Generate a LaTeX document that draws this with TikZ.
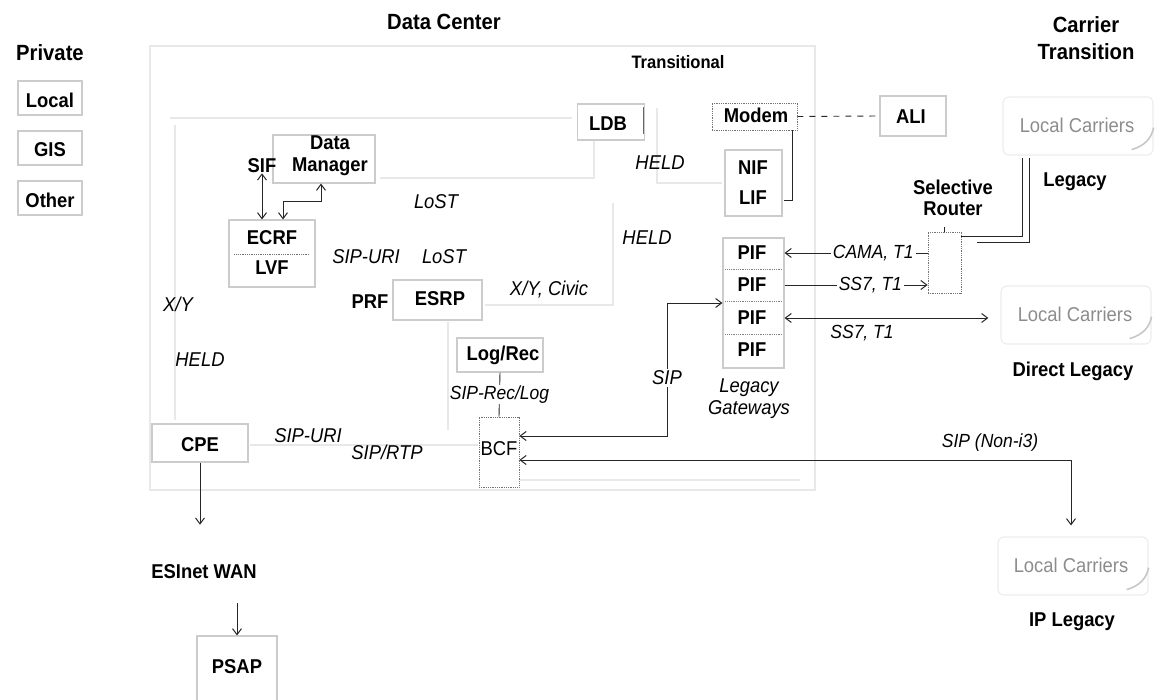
\documentclass[tikz,border=0pt]{standalone}
\usepackage{fontspec}
\setmainfont{Liberation Sans}[FakeStretch=0.92]
\usetikzlibrary{arrows.meta}
\begin{document}
\begin{tikzpicture}[x=1pt,y=-1pt,
  lbl/.style={font=\bfseries\fontsize{20}{22}\selectfont, inner sep=0pt, align=center},
  ttl/.style={font=\bfseries\fontsize{22}{27}\selectfont, inner sep=0pt, align=center},
  prot/.style={font=\itshape\fontsize{20}{22}\selectfont, inner sep=0pt, align=center},
  plab/.style={font=\itshape\fontsize{19}{21}\selectfont, inner sep=2pt, fill=white},
  carr/.style={font=\fontsize{20}{22}\selectfont, text=black!45, inner sep=0pt},
  fbox/.style={draw=black!20, line width=1.1pt, inner sep=0pt},
  dbox/.style={draw=black!55, densely dotted, line width=0.8pt, inner sep=0pt},
  faintline/.style={draw=black!9, line width=1.6pt},
  cloud/.style={draw=black!7, line width=1.2pt, rounded corners=6pt, inner sep=0pt},
  wire/.style={draw=black!85, line width=0.9pt},
  tip/.style={-{Straight Barb[length=6pt,width=9pt,line width=1pt]}},
  tips/.style={{Straight Barb[length=6pt,width=9pt,line width=1pt]}-{Straight Barb[length=6pt,width=9pt,line width=1pt]}}
]
\useasboundingbox (0,0) rectangle (1161,700);

% ---------- faint background structure (scanned connectors) ----------
\draw[faintline] (150,46) rectangle (815,490);
\draw[faintline] (170,118) -- (572,118);
\draw[faintline] (175,125) -- (175,420);
\draw[faintline] (594,140) -- (594,178) -- (380,178);
\draw[faintline] (657,108) -- (657,183) -- (722,183);
\draw[faintline] (613,203) -- (613,305) -- (485,305);
\draw[faintline] (250,445) -- (478,445);
\draw[faintline] (448,322) -- (448,430);
\draw[faintline] (520,480) -- (800,480);

% ---------- titles ----------
\node[ttl] (private) at (50,53) {Private};
\node[ttl] (dc) at (444,22) {Data Center};
\node[ttl] (ct) at (1086,38) {Carrier\\Transition};
\node[lbl, font=\bfseries\fontsize{18}{20}\selectfont] (trans) at (678,62) {Transitional};

% ---------- private ----------
\node[fbox, minimum width=64, minimum height=34] (localbox) at (50,98) {};
\node[lbl] (local) at (50,100) {Local};
\node[fbox, minimum width=64, minimum height=34] (gisbox) at (50,148) {};
\node[lbl] (gis) at (50,150) {GIS};
\node[fbox, minimum width=64, minimum height=34] (otherbox) at (50,198) {};
\node[lbl] (other) at (50,200) {Other};

% ---------- data center nodes ----------
\node[fbox, minimum width=102, minimum height=48] (dmbox) at (324,159) {};
\node[lbl] (dm) at (330,156) {Data\\Manager};
\node[lbl] (sif) at (262,166) {SIF};

\node[fbox, minimum width=86, minimum height=67] (ecrfbox) at (272,253.5) {};
\node[lbl] (ecrf) at (272,238) {ECRF};
\node[lbl] (lvf) at (272,268) {LVF};
\draw[black!55, densely dotted, line width=0.8pt] ([xshift=6pt,yshift=-0.5pt]ecrfbox.west) -- ([xshift=-6pt,yshift=-0.5pt]ecrfbox.east);

\node[fbox, minimum width=89, minimum height=40] (esrpbox) at (437.5,300) {};
\node[lbl] (esrp) at (440,299) {ESRP};
\node[lbl] (prf) at (370,302) {PRF};

\node[fbox, minimum width=86, minimum height=34] (logrecbox) at (500,355) {};
\node[lbl] (logrec) at (503,355) {Log/Rec};

\node[dbox, minimum width=40, minimum height=70] (bcfbox) at (499,452) {};
\node[font=\fontsize{20}{22}\selectfont, inner sep=0pt] (bcf) at (499,449) {BCF};

\node[fbox, minimum width=96, minimum height=38] (cpebox) at (200,443) {};
\node[lbl] (cpe) at (200,445) {CPE};

\node[lbl] (esinet) at (204,572) {ESInet WAN};

\node[fbox, minimum width=80, minimum height=72] (psapbox) at (237,672) {};
\node[lbl] (psap) at (237,667) {PSAP};

\node[fbox, minimum width=67, minimum height=36] (ldbbox) at (611,122) {};
\node[lbl] (ldb) at (608,124) {LDB};
\draw[black!60, line width=0.8pt] ([xshift=-2pt,yshift=-4pt]ldbbox.north east) -- ([xshift=-2pt,yshift=7pt]ldbbox.south east);

% ---------- protocol labels ----------
\node[prot] (held1) at (660,163) {HELD};
\node[prot] (held2) at (647,238) {HELD};
\node[prot] (lost1) at (436,202) {LoST};
\node[prot] (lost2) at (444,257) {LoST};
\node[prot] (sipuri1) at (366,257) {SIP-URI};
\node[prot] (xycivic) at (549,290) {X/Y, Civic};
\node[prot] (xy) at (178,304) {X/Y};
\node[prot] (held3) at (200,360) {HELD};
\node[prot] (sipuri2) at (308,436) {SIP-URI};
\node[prot] (siprtp) at (387,452) {SIP/RTP};

% ---------- transitional ----------
\node[dbox, minimum width=85, minimum height=27] (modem) at (754.5,116.5) {};
\node[lbl] (modemt) at (756,115) {Modem};
\node[fbox, minimum width=66, minimum height=40] (alibox) at (913,116) {};
\node[lbl] (ali) at (911,117) {ALI};

\node[fbox, minimum width=57, minimum height=66] (nlbox) at (753.5,183) {};
\node[lbl] (nif) at (753,168) {NIF};
\node[lbl] (lif) at (753,198) {LIF};

\node[fbox, minimum width=61, minimum height=130] (pifbox) at (753.5,303) {};
\node[lbl] (pif1) at (752,253) {PIF};
\node[lbl] (pif2) at (752,285) {PIF};
\node[lbl] (pif3) at (752,318) {PIF};
\node[lbl] (pif4) at (752,350) {PIF};
\foreach \yy in {269,301,334}
  \draw[black!50, densely dotted, line width=0.8pt] ([xshift=3pt]pifbox.west |- 0,\yy) -- ([xshift=-3pt]pifbox.east |- 0,\yy);
\node[prot] (lgw) at (749,399) {Legacy\\Gateways};

\node[lbl, font=\bfseries\fontsize{20}{21}\selectfont] (sr) at (953,198) {Selective\\Router};
\node[dbox, minimum width=33, minimum height=61] (srbox) at (944.5,262.5) {};

% ---------- carriers ----------
\node[cloud, minimum width=150, minimum height=58] (lc1box) at (1078,126) {};
\node[carr] (lc1) at (1077,125) {Local Carriers};
\node[lbl] (legacy) at (1075,182) {Legacy};
\node[cloud, minimum width=150, minimum height=58] (lc2box) at (1076,315) {};
\node[carr] (lc2) at (1075,314) {Local Carriers};
\node[lbl] (dlegacy) at (1073,371) {Direct Legacy};
\node[cloud, minimum width=150, minimum height=58] (lc3box) at (1073,566) {};
\node[carr] (lc3) at (1071,565) {Local Carriers};
\node[lbl] (iplegacy) at (1072,622) {IP Legacy};
\foreach \c in {lc1box,lc2box,lc3box}
  \draw[black!22, line width=1.6pt] ([xshift=-22pt,yshift=6pt]\c.south east) .. controls ([xshift=-8pt,yshift=10pt]\c.south east) and ([xshift=-2pt,yshift=18pt]\c.south east) .. ([xshift=0pt,yshift=28pt]\c.south east);

% ---------- connectors ----------
\draw[wire, tips] (sif.south) -- (sif.south |- ecrfbox.north);
\draw[wire, tips] ([xshift=11pt]ecrfbox.north) -- ++(0,-18) -| ([xshift=-3pt]dmbox.south);

\draw[wire, dashed, dash pattern=on 6pt off 6pt] (modem.east) -- (alibox.west);
\draw[wire, line width=0.7pt] ([xshift=-5pt]modem.south east) -- ++(0,70) -- ++(-8,0);

\draw[wire, tip] (srbox.west |- pif1) -- (pifbox.east |- pif1) node[plab, pos=0.38] (cama) {CAMA, T1};
\draw[wire, tip] (pifbox.east |- pif2) -- (srbox.west |- pif2) node[plab, pos=0.6] (ss7a) {SS7, T1};
\draw[wire, tips] (pifbox.east |- pif3) -- ([xshift=-12pt]lc2box.west |- pif3) node[font=\itshape\fontsize{19}{21}\selectfont, below=3pt, pos=0.38] (ss7b) {SS7, T1};

\draw[wire] (srbox.north) -- ++(0,-5);
\draw[wire] ([yshift=-5pt]srbox.north east) -- ++(61,0) -- ++(0,-79);
\draw[wire] ([xshift=16pt,yshift=-11pt]srbox.north east) -- ++(52,0) -- ++(0,-85);

\coordinate (sipmid) at (667,378);
\draw[wire, tips] ([yshift=16pt]bcfbox.east) -| (sipmid) |- (pifbox.west);
\node[prot, fill=white, inner sep=2pt] (siplbl) at (sipmid) {SIP};

\draw[wire, tips] ([yshift=-8pt]bcfbox.east) -| ([yshift=32pt]lc3.north);
\node[font=\itshape\fontsize{19}{21}\selectfont, inner sep=0pt] (nonithree) at (990,443) {SIP (Non-i3)};

\draw[wire] (logrecbox.south) -- (bcfbox.north) node[plab, midway, inner sep=1pt] (reclog) {SIP-Rec/Log};

\draw[wire, tip] (cpebox.south) -- ([yshift=40pt]cpebox.south |- esinet.north);
\draw[wire, tip] ([yshift=-24pt]psapbox.north |- esinet.south) -- (psapbox.north);
\end{tikzpicture}
\end{document}
